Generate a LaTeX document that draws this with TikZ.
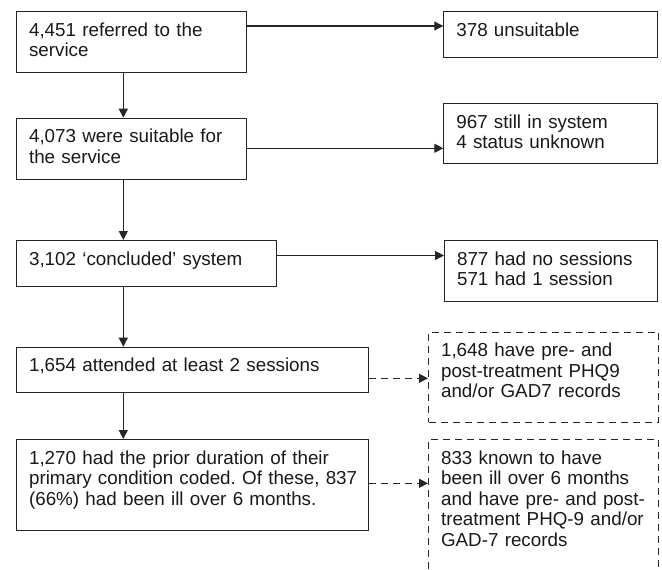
\documentclass[tikz,border=0pt]{standalone}
\usepackage{fontspec}
\setmainfont{Liberation Sans}
\usetikzlibrary{arrows.meta}
\frenchspacing
\tikzset{
  box/.style={draw=black!85, line width=1.1pt, anchor=north west, inner xsep=12.5pt, inner ysep=0pt,
    align=left, text height=24.5pt, font=\fontsize{18.8}{20.6}\selectfont, text=black!90},
  dbox/.style={box, dash pattern=on 7pt off 5pt},
  arr/.style={draw=black!85, line width=1.1pt, -{Triangle[length=9pt,width=9pt]}},
  darr/.style={arr, dash pattern=on 7pt off 5pt}
}
\begin{document}
\begin{tikzpicture}[x=1pt,y=-1pt]
\useasboundingbox (0,0) rectangle (662,570);
\clip (0,0) rectangle (662,570);
\node[box, text width=204.6pt, text depth=36.2pt] (b1) at (16,11) {\mbox{4,451 referred to the}\\\mbox{service}};
\node[box, text width=204.6pt, text depth=36.8pt] (b2) at (16,117.7) {\mbox{4,073 were suitable for}\\\mbox{the service}};
\node[box, text width=234.7pt, text depth=21.2pt] (b3) at (16,240) {\mbox{3,102 ‘concluded’ system}};
\node[box, text width=326.7pt, text depth=21.1pt] (b4) at (16,346.7) {\mbox{1,654 attended at least 2 sessions}};
\node[box, text width=326.7pt, text depth=66.5pt] (b5) at (16,439) {\mbox{1,270 had the prior duration of their}\\\mbox{primary condition coded. Of these, 837}\\\mbox{(66\%) had been ill over 6 months.}};
\node[box, text width=188.7pt, text depth=21.2pt] (r1) at (443.3,11) {\mbox{378 unsuitable}};
\node[box, text width=188.7pt, text depth=35.5pt] (r2) at (443.3,103) {\mbox{967 still in system}\\\mbox{4 status unknown}};
\node[box, text width=188.3pt, text depth=36.2pt] (r3) at (444,240) {\mbox{877 had no sessions}\\\mbox{571 had 1 session}};
\node[dbox, text width=205pt, text depth=65.5pt] (d1) at (428,331.7) {\mbox{1,648 have pre- and}\\\mbox{post-treatment PHQ9}\\\mbox{and/or GAD7 records}};
\node[dbox, text width=205pt, text depth=125pt] (d2) at (428,439) {\mbox{833 known to have}\\\mbox{been ill over 6 months}\\\mbox{and have pre- and post-}\\\mbox{treatment PHQ-9 and/or}\\\mbox{GAD-7 records}};
\coordinate (vx) at (123.3,0);
\coordinate (h1) at (0,26);
\coordinate (h2) at (0,148.3);
\coordinate (h3) at (0,255.5);
\coordinate (h4) at (0,378.3);
\coordinate (h5) at (0,483.3);
\draw[arr] (b1.south -| vx) -- (b2.north -| vx);
\draw[arr] (b2.south -| vx) -- (b3.north -| vx);
\draw[arr] (b3.south -| vx) -- (b4.north -| vx);
\draw[arr] (b4.south -| vx) -- (b5.north -| vx);
\draw[arr] (b1.east |- h1) -- (r1.west |- h1);
\draw[arr] (b2.east |- h2) -- (r2.west |- h2);
\draw[arr] (b3.east |- h3) -- (r3.west |- h3);
\draw[darr] (b4.east |- h4) -- (d1.west |- h4);
\draw[darr] (b5.east |- h5) -- (d2.west |- h5);
\end{tikzpicture}
\end{document}
